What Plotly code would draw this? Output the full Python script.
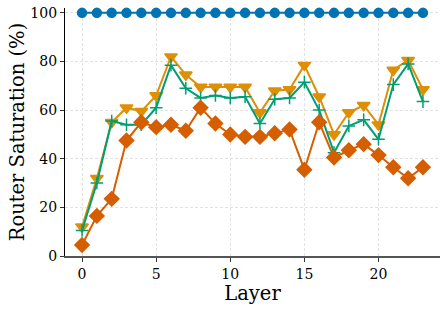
import plotly.graph_objects as go

layers = list(range(24))
blue_vals = [100] * 24
orange_vals = [12, 32, 55, 61, 59.5, 66, 82, 74.5, 69.5, 69.5, 69.5, 69.5,
               59, 68, 68.5, 78.5, 65.5, 50, 59, 62, 54, 76.5, 80.5, 68.5]
green_vals = [10.5, 30, 55.5, 54, 54, 61, 78.5, 69, 65, 66, 65, 65.5,
              54.5, 64.5, 65, 71.5, 60, 42.5, 53.5, 56, 48, 70.5, 79, 63.5]
red_vals = [4.5, 16.5, 23.5, 47.5, 55, 53, 54, 51.5, 61, 54.5, 50, 49,
            49, 50.5, 52, 35.5, 55, 40.5, 43.5, 46, 41.5, 36.5, 32, 36.5]

x_ticks = [0, 5, 10, 15, 20]
y_ticks = [0, 20, 40, 60, 80, 100]

fig = go.Figure()
series = [
    (blue_vals, "#0173B2", "circle", 9),
    (orange_vals, "#DE8F05", "triangle-down", 11),
    (green_vals, "#029E73", "cross-thin", 9),
    (red_vals, "#D55E00", "diamond", 11),
]
for vals, col, sym, sz in series:
    fig.add_trace(go.Scatter(
        x=layers, y=vals, mode="lines+markers",
        line=dict(color=col, width=2),
        marker=dict(symbol=sym, size=sz, color=col,
                    line=dict(color=col, width=1.5)),
        showlegend=False, cliponaxis=False,
    ))

font = "DejaVu Serif"
fig.update_layout(
    width=448, height=309,
    margin=dict(l=65, r=8, t=8, b=53),
    plot_bgcolor="white", paper_bgcolor="white",
    font=dict(family=font, color="black", size=14),
)
fig.update_xaxes(
    range=[-1.15, 24.15], tickvals=x_ticks, ticks="outside", ticklen=4,
    tickcolor="#333333",
    showgrid=True, gridcolor="#e2e2e2", griddash="3px,2px", gridwidth=0.8,
    zeroline=False, showline=True, linecolor="#555555", linewidth=1.5,
    title=dict(text="Layer", font=dict(size=19.5, family=font), standoff=0),
    tickfont=dict(size=14, family=font), automargin=False,
)
fig.update_yaxes(
    range=[0, 102], tickvals=y_ticks, ticks="outside", ticklen=4,
    tickcolor="#333333",
    showgrid=True, gridcolor="#e2e2e2", griddash="3px,2px", gridwidth=0.8,
    zeroline=False, showline=True, linecolor="black", linewidth=1.2,
    title=dict(text="Router Saturation (%)", font=dict(size=19.5, family=font), standoff=0),
    tickfont=dict(size=14, family=font), automargin=False,
)
fig.write_html("out.html", config={"displayModeBar": False},
               post_script="document.body.style.margin='0px';document.body.style.overflow='hidden';")
